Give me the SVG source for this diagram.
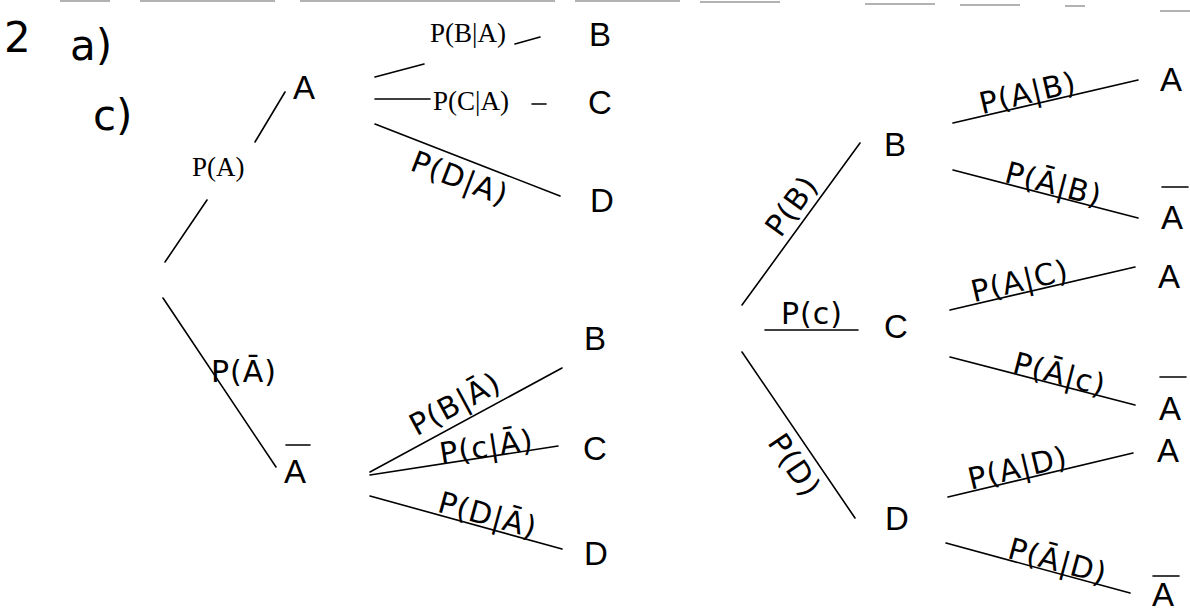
<svg xmlns="http://www.w3.org/2000/svg" width="1190" height="615" viewBox="0 0 1190 615">
<style>
.bg{fill:#fff}
.ln{stroke:#000;stroke-width:1.6;fill:none;stroke-linecap:round}
.scan{stroke:#999;stroke-width:1.5}
.node{font-family:"Liberation Sans",Arial,sans-serif;font-size:33px;fill:#000}
.tm{font-family:"Liberation Serif","Times New Roman",serif;font-size:27px;fill:#000}
.hw{font-family:"DejaVu Sans","Noto Sans",sans-serif;font-size:30px;letter-spacing:1px;fill:#000;text-anchor:middle}
.hd{font-family:"DejaVu Sans","Noto Sans",sans-serif;font-size:42px;fill:#000}
</style>
<rect class="bg" x="0" y="0" width="1190" height="615"/>
<g id="scan-edge">
<line class="scan" x1="60" y1="1" x2="110" y2="1"/>
<line class="scan" x1="140" y1="1" x2="275" y2="1"/>
<line class="scan" x1="300" y1="1" x2="555" y2="1"/>
<line class="scan" x1="575" y1="1" x2="680" y2="1"/>
<line class="scan" x1="700" y1="2" x2="780" y2="2"/>
<line class="scan" x1="865" y1="4" x2="935" y2="4"/>
<line class="scan" x1="960" y1="5" x2="1020" y2="5"/>
<line class="scan" x1="1065" y1="6" x2="1085" y2="6"/>
<line class="scan" x1="1160" y1="11" x2="1190" y2="11"/>
</g>
<g id="heading">
<text class="hd" x="4" y="52">2</text>
<text class="hd" x="70" y="60">a)</text>
<text class="hd" x="93" y="130">c)</text>
</g>
<g id="connectors">
<line class="ln" x1="165" y1="262" x2="207" y2="200"/>
<line class="ln" x1="255" y1="142" x2="285" y2="92"/>
<line class="ln" x1="515" y1="44" x2="540" y2="37"/>
<line class="ln" x1="375" y1="77" x2="424" y2="64"/>
<line class="ln" x1="375" y1="99" x2="430" y2="99"/>
<line class="ln" x1="532" y1="104" x2="546" y2="104"/>
<line class="ln" x1="375" y1="124" x2="560" y2="196"/>
<line class="ln" x1="163" y1="298" x2="276" y2="467"/>
<line class="ln" x1="370" y1="472" x2="562" y2="368"/>
<line class="ln" x1="370" y1="475" x2="558" y2="446"/>
<line class="ln" x1="370" y1="496" x2="562" y2="549"/>
<line class="ln" x1="742" y1="305" x2="860" y2="143"/>
<line class="ln" x1="765" y1="330" x2="858" y2="330"/>
<line class="ln" x1="742" y1="352" x2="855" y2="518"/>
<line class="ln" x1="953" y1="123" x2="1138" y2="80"/>
<line class="ln" x1="953" y1="170" x2="1138" y2="218"/>
<line class="ln" x1="950" y1="310" x2="1135" y2="267"/>
<line class="ln" x1="950" y1="357" x2="1135" y2="405"/>
<line class="ln" x1="948" y1="497" x2="1133" y2="453"/>
<line class="ln" x1="946" y1="543" x2="1130" y2="593"/>
</g>
<g id="edge-labels">
<text class="tm" x="192" y="176">P(A)</text>
<text class="tm" x="430" y="42">P(B|A)</text>
<text class="tm" x="433" y="110">P(C|A)</text>
<text class="hw" transform="translate(456,188) rotate(21)">P(D|A)</text>
<text class="hw" x="244" y="382" font-size="28">P(Ā)</text>
<text class="hw" transform="translate(460,413) rotate(-28.4)">P(B|Ā)</text>
<text class="hw" transform="translate(488,457) rotate(-8.8)" font-size="28">P(c|Ā)</text>
<text class="hw" transform="translate(485,525) rotate(15.4)">P(D|Ā)</text>
<text class="hw" transform="translate(800,212) rotate(-54)">P(B)</text>
<text class="hw" x="812" y="324">P(c)</text>
<text class="hw" transform="translate(786,471) rotate(56)">P(D)</text>
<text class="hw" transform="translate(1030,103) rotate(-13.1)">P(A|B)</text>
<text class="hw" transform="translate(1051,194) rotate(14.5)">P(Ā|B)</text>
<text class="hw" transform="translate(1022,291) rotate(-13.1)">P(A|C)</text>
<text class="hw" transform="translate(1057,384) rotate(14.5)">P(Ā|c)</text>
<text class="hw" transform="translate(1020,478) rotate(-13.4)">P(A|D)</text>
<text class="hw" transform="translate(1055,571) rotate(15.2)">P(Ā|D)</text>
</g>
<g id="n-A1"><text class="node" x="293" y="99">A</text></g>
<g id="n-B1"><text class="node" x="589" y="46">B</text></g>
<g id="n-C1"><text class="node" x="588" y="114">C</text></g>
<g id="n-D1"><text class="node" x="590" y="212">D</text></g>
<g id="n-Abar"><text class="node" x="284" y="483">A</text><line class="ln" x1="286" y1="445" x2="310" y2="445"/></g>
<g id="n-B2"><text class="node" x="584" y="350">B</text></g>
<g id="n-C2"><text class="node" x="583" y="460">C</text></g>
<g id="n-D2"><text class="node" x="584" y="565">D</text></g>
<g id="n-B3"><text class="node" x="884" y="156">B</text></g>
<g id="n-C3"><text class="node" x="884" y="338">C</text></g>
<g id="n-D3"><text class="node" x="885" y="530">D</text></g>
<g id="n-A31"><text class="node" x="1160" y="91">A</text></g>
<g id="n-A32"><text class="node" x="1161" y="229">A</text><line class="ln" x1="1162" y1="187" x2="1188" y2="187"/></g>
<g id="n-A33"><text class="node" x="1158" y="288">A</text></g>
<g id="n-A34"><text class="node" x="1159" y="420">A</text><line class="ln" x1="1160" y1="377" x2="1186" y2="377"/></g>
<g id="n-A35"><text class="node" x="1157" y="462">A</text></g>
<g id="n-A36"><text class="node" x="1152" y="606" font-size="31">A</text><line class="ln" x1="1153" y1="576" x2="1179" y2="576"/></g>
</svg>
